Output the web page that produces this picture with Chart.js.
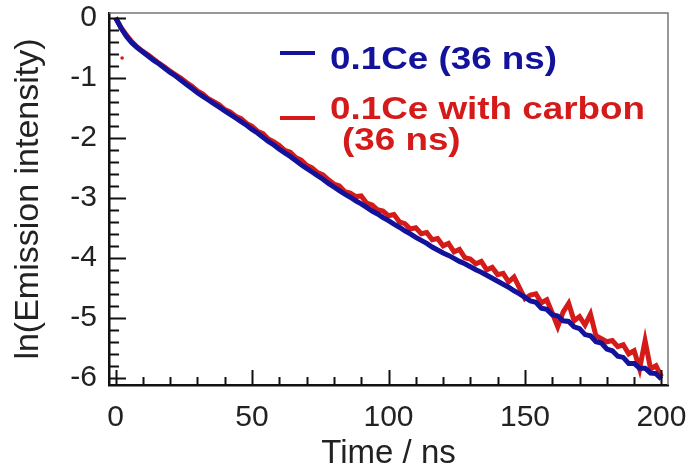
<!DOCTYPE html>
<html>
<head>
<meta charset="utf-8">
<script src="https://cdn.jsdelivr.net/npm/chart.js@4"></script>
<style>
  body { margin: 0; background: #fff; font-family: "Liberation Sans", Arial, sans-serif; }
  #wrap { position: relative; width: 691px; height: 469px; }
  .leg { position: absolute; font-weight: bold; font-size: 32px; white-space: nowrap; transform: scaleX(1.15); transform-origin: left center; line-height: 32px; }
  .mark { position: absolute; width: 35px; height: 4px; }
</style>
</head>
<body>
<div id="wrap">
  <canvas id="decayChart"></canvas>
  <div class="mark" style="left:280px; top:51px; background:#12129a;"></div>
  <div class="leg" style="left:330px; top:42px; color:#12129a;">0.1Ce (36 ns)</div>
  <div class="mark" style="left:280px; top:116px; background:#d51a1a;"></div>
  <div class="leg" style="left:330px; top:92px; color:#d51a1a;">0.1Ce with carbon</div>
  <div class="leg" style="left:342px; top:123px; color:#d51a1a;">(36 ns)</div>
</div>
<script>
// time axis (ns), every 2 ns
let times = [];
for (let t = 0; t <= 200; t += 2) times.push(t);

// 0.1Ce
let blue = [
  0, -0.17, -0.31, -0.42, -0.50, -0.57, -0.64, -0.71, -0.77, -0.84,
  -0.91, -0.97, -1.04, -1.11, -1.18, -1.25, -1.31, -1.37, -1.43, -1.49,
  -1.55, -1.61, -1.67, -1.73, -1.79, -1.86, -1.92, -1.99, -2.06, -2.12,
  -2.19, -2.25, -2.31, -2.38, -2.45, -2.51, -2.57, -2.63, -2.69, -2.76,
  -2.82, -2.88, -2.94, -2.99, -3.05, -3.10, -3.16, -3.22, -3.27, -3.33,
  -3.38, -3.44, -3.49, -3.55, -3.60, -3.66, -3.71, -3.76, -3.82, -3.87,
  -3.92, -3.96, -4.01, -4.06, -4.10, -4.15, -4.20, -4.24, -4.29, -4.34,
  -4.39, -4.44, -4.49, -4.55, -4.60, -4.66, -4.72, -4.74, -4.84, -4.86,
  -4.95, -4.97, -5.05, -5.06, -5.15, -5.18, -5.28, -5.30, -5.40, -5.42,
  -5.52, -5.55, -5.64, -5.66, -5.76, -5.76, -5.84, -5.84, -5.92, -5.93,
  -6.02
];

// 0.1Ce with carbon
let red = [
  0, -0.16, -0.29, -0.40, -0.49, -0.56, -0.62, -0.69, -0.76, -0.82,
  -0.89, -0.95, -1.01, -1.08, -1.14, -1.22, -1.27, -1.35, -1.40, -1.45,
  -1.53, -1.57, -1.64, -1.68, -1.76, -1.81, -1.89, -1.93, -2.02, -2.07,
  -2.13, -2.21, -2.24, -2.33, -2.37, -2.46, -2.50, -2.58, -2.62, -2.70,
  -2.77, -2.80, -2.90, -2.92, -2.98, -2.97, -3.09, -3.12, -3.20, -3.22,
  -3.30, -3.28, -3.40, -3.43, -3.52, -3.50, -3.60, -3.58, -3.70, -3.68,
  -3.80, -3.76, -3.90, -3.86, -4.00, -4.02, -4.10, -4.06, -4.20, -4.16,
  -4.28, -4.26, -4.40, -4.32, -4.50, -4.68, -4.62, -4.60, -4.75, -4.70,
  -4.92, -5.15, -4.90, -4.76, -5.05, -4.98, -5.12, -4.94, -5.30, -5.35,
  -5.40, -5.38, -5.48, -5.45, -5.60, -5.55, -5.85, -5.38, -5.85, -5.80,
  -5.98
];

// stray red point near the start
let strayPoint = [{ x: 2.4, y: -0.67 }];

let xTicks = [0, 50, 100, 150, 200];
let yTicks = [0, -1, -2, -3, -4, -5, -6];

const BLUE = "#12129a";
const RED = "#d51a1a";

function toPoints(ys) {
    return times.map((t, i) => ({ x: t, y: ys[i] }));
}

// inward ticks + grey top/right frame
const frame = {
    id: "frame",
    afterDatasetsDraw(chart) {
        let ctx = chart.ctx;
        let a = chart.chartArea;
        let x = chart.scales.x;
        let y = chart.scales.y;
        ctx.save();
        ctx.strokeStyle = "#777";
        ctx.lineWidth = 1.5;
        ctx.beginPath();
        ctx.moveTo(a.left, a.top);
        ctx.lineTo(a.right, a.top);
        ctx.lineTo(a.right, a.bottom);
        ctx.stroke();

        ctx.strokeStyle = "#111";
        ctx.lineWidth = 2;
        ctx.beginPath();
        for (let v = 0; v <= 200; v += 10) {
            let px = Math.round(x.getPixelForValue(v)) + 0.5;
            let len = v % 50 === 0 ? 15 : 8;
            ctx.moveTo(px, a.bottom);
            ctx.lineTo(px, a.bottom - len);
        }
        for (let k = 0; k <= 30; k++) {
            let v = -k * 0.2;
            let py = Math.round(y.getPixelForValue(v)) + 0.5;
            let len = k % 5 === 0 ? 17 : 10;
            ctx.moveTo(a.left, py);
            ctx.lineTo(a.left + len, py);
        }
        ctx.stroke();
        ctx.restore();
    }
};

function loadChart() {
    let ctx = document.getElementById("decayChart");

    new Chart(ctx, {
        type: "scatter",
        data: {
            datasets: [
                {
                    label: "0.1Ce (36 ns)",
                    data: toPoints(blue),
                    borderColor: BLUE,
                    borderWidth: 5,
                    showLine: true,
                    pointRadius: 0,
                    tension: 0
                },
                {
                    label: "0.1Ce with carbon (36 ns)",
                    data: toPoints(red),
                    borderColor: RED,
                    borderWidth: 5,
                    showLine: true,
                    pointRadius: 0,
                    tension: 0
                },
                {
                    label: "",
                    data: strayPoint,
                    backgroundColor: RED,
                    borderWidth: 0,
                    pointRadius: 1.8,
                    showLine: false
                }
            ]
        },
        options: {
            responsive: true,
            maintainAspectRatio: false,
            animation: false,
            layout: { padding: { top: 13, right: 23, left: 0, bottom: 0 } },
            plugins: {
                legend: { display: false },
                tooltip: { enabled: false }
            },
            scales: {
                x: {
                    type: "linear",
                    min: -2.4,
                    max: 202.4,
                    afterBuildTicks: s => { s.ticks = xTicks.map(v => ({ value: v })); },
                    afterFit: s => { s.height = 84; s.paddingLeft = 0; s.paddingRight = 0; },
                    grid: { display: false, drawTicks: false, tickLength: 0 },
                    border: { display: true, color: "#111", width: 2.5 },
                    ticks: {
                        color: "#222",
                        font: { family: "Liberation Sans", size: 30 },
                        padding: 15,
                        maxRotation: 0
                    },
                    title: {
                        display: true,
                        text: "Time / ns",
                        color: "#222",
                        font: { family: "Liberation Sans", size: 33 },
                        padding: { top: 0, bottom: -5 }
                    }
                },
                y: {
                    type: "linear",
                    min: -6.12,
                    max: 0.08,
                    afterBuildTicks: s => { s.ticks = yTicks.map(v => ({ value: v })); },
                    afterFit: s => { s.width = 109; s.paddingTop = 0; s.paddingBottom = 0; },
                    grid: { display: false, drawTicks: false, tickLength: 0 },
                    border: { display: true, color: "#111", width: 2.5 },
                    ticks: {
                        color: "#222",
                        font: { family: "Liberation Sans", size: 30 },
                        padding: 12
                    },
                    title: {
                        display: true,
                        text: "ln(Emission intensity)",
                        color: "#222",
                        font: { family: "Liberation Sans", size: 34 },
                        padding: { top: 8, bottom: 0 }
                    }
                }
            }
        },
        plugins: [frame]
    });
}

window.onload = loadChart;
</script>
</body>
</html>
